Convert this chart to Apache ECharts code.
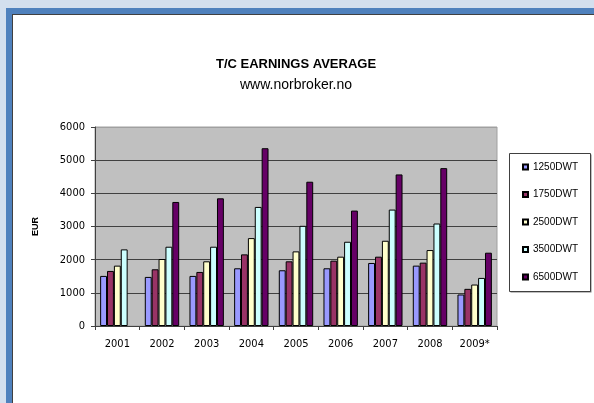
<!DOCTYPE html>
<html>
<head>
<meta charset="utf-8">
<script src="https://cdn.jsdelivr.net/npm/echarts@6/dist/echarts.min.js"></script>
<style>html,body{margin:0;padding:0;background:#fff;}#c{width:594px;height:403px;}</style>
</head>
<body>
<div id="c"></div>
<script>
var categories = ['2001','2002','2003','2004','2005','2006','2007','2008','2009*'];
var seriesNames = ['1250DWT','1750DWT','2500DWT','3500DWT','6500DWT'];
var dwt1250 = [1510,1480,1510,1740,1680,1740,1900,1820,950];
var dwt1750 = [1660,1710,1630,2160,1950,1970,2090,1910,1120];
var dwt2500 = [1820,2020,1950,2650,2250,2090,2570,2290,1250];
var dwt3500 = [2310,2390,2390,3590,3020,2540,3510,3090,1450];
var dwt6500 = [null,3740,3850,5360,4350,3480,4570,4760,2210];
var yTicks = [0,1000,2000,3000,4000,5000,6000];

var seriesData = [dwt1250, dwt1750, dwt2500, dwt3500, dwt6500];
var colors = ['#9999ff','#993366','#ffffcc','#ccffff','#660066'];
var narrow = '"Liberation Sans Narrow","Arial Narrow","DejaVu Sans Condensed","Liberation Sans",Arial,sans-serif';
var sans = '"Liberation Sans",Arial,sans-serif';

var chart = echarts.init(document.getElementById('c'), null, {renderer:'canvas'});
var series = seriesNames.map(function(n,i){
  return {
    name:n, type:'bar', data:seriesData[i],
    barGap:'0%', barCategoryGap:'23%',
    itemStyle:{color:colors[i], borderColor:'#000', borderWidth:1},
    emphasis:{disabled:true}
  };
});
var splitColors = yTicks.map(function(v,i){ return i===yTicks.length-1 ? '#a0a0a0' : '#404040'; });

chart.setOption({
  animation:false,
  backgroundColor:'#d3dfee',
  graphic:[
    {type:'rect', z:-10, shape:{x:6,y:8,width:588,height:395}, style:{fill:'#4f81bd'}},
    {type:'rect', z:-9, shape:{x:12,y:14,width:582,height:389}, style:{fill:'#404040'}},
    {type:'rect', z:-8, shape:{x:13,y:15,width:581,height:388}, style:{fill:'#ffffff'}},
    {type:'rect', z:-7, shape:{x:510.5,y:154.5,width:81,height:138}, style:{fill:'#808080'}},
    {type:'rect', z:-6, shape:{x:509.5,y:153.5,width:81,height:138}, style:{fill:'#ffffff', stroke:'#404040', lineWidth:1}}
  ],
  title:[
    {text:'T/C EARNINGS AVERAGE', left:296, top:58, textAlign:'center', padding:0,
     textStyle:{fontFamily:sans, fontSize:13, fontWeight:'bold', color:'#000'}},
    {text:'www.norbroker.no', left:296, top:78, textAlign:'center', padding:0,
     textStyle:{fontFamily:sans, fontSize:14, fontWeight:'normal', color:'#000'}}
  ],
  legend:{
    orient:'vertical', left:522, top:161, padding:0,
    itemWidth:5, itemHeight:5, itemGap:15.5,
    icon:'rect',
    selectedMode:false,
    textStyle:{fontFamily:sans, fontSize:10, color:'#000', lineHeight:12},
    data:seriesNames
  },
  grid:{left:95, right:97, top:127, bottom:77, show:true, backgroundColor:'#c0c0c0', borderColor:'#a0a0a0', borderWidth:1},
  xAxis:{
    type:'category', data:categories,
    axisLine:{lineStyle:{color:'#404040', width:1}},
    axisTick:{show:true, length:4, lineStyle:{color:'#404040'}},
    axisLabel:{fontFamily:narrow, fontSize:11, color:'#000', margin:13}
  },
  yAxis:{
    type:'value', min:0, max:6000, interval:1000,
    name:'EUR', nameLocation:'middle', nameGap:55, nameRotate:90,
    nameTextStyle:{fontFamily:sans, fontSize:9, fontWeight:'bold', color:'#000'},
    axisLine:{show:true, lineStyle:{color:'#404040', width:1}},
    axisTick:{show:true, length:4, lineStyle:{color:'#404040'}},
    axisLabel:{fontFamily:narrow, fontSize:11, color:'#000', margin:10, formatter:function(v){return String(v);}},
    splitLine:{show:true, lineStyle:{color:splitColors, width:1}}
  },
  series:series
});
</script>
</body>
</html>
